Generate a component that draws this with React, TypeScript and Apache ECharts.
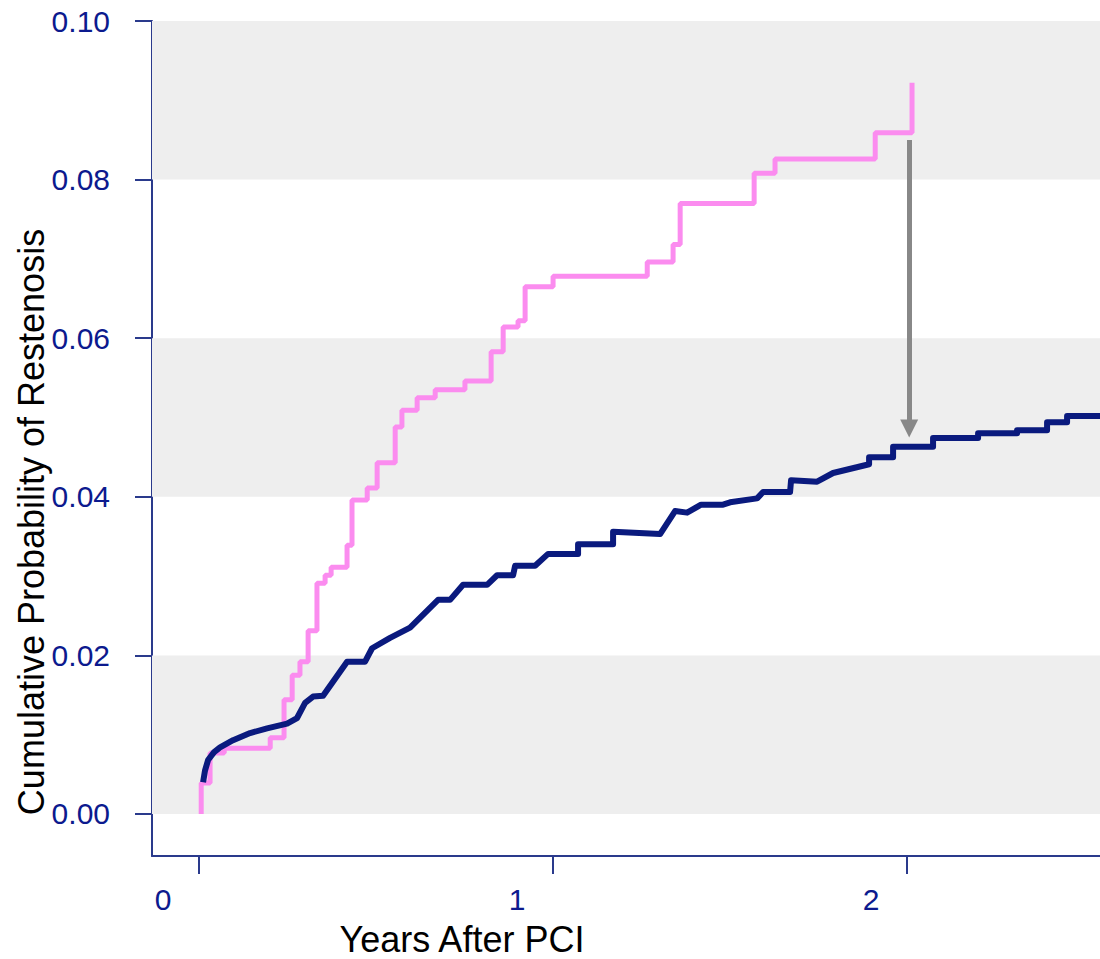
import React, { useEffect, useRef } from "react";
import * as echarts from "echarts";

// Axis ticks and labels
const xTickValues = [0, 1, 2];
const yTickValues = [0, 0.02, 0.04, 0.06, 0.08, 0.1];

// Shaded horizontal bands [from, to]
const bandRanges: [number, number][] = [
  [0, 0.02],
  [0.04, 0.06],
  [0.08, 0.1],
];

// Kaplan-Meier style step curve: [years, cumulative probability after event]
const pinkSteps: [number, number][] = [
  [0.006, 0], [0.006, 0.0039], [0.031, 0.0077], [0.071, 0.0083], [0.201, 0.0096],
  [0.24, 0.0144], [0.263, 0.0175], [0.285, 0.0192], [0.308, 0.0231], [0.333, 0.0291],
  [0.356, 0.0301], [0.373, 0.0311], [0.418, 0.0339], [0.432, 0.0396], [0.475, 0.0411],
  [0.503, 0.0443], [0.554, 0.0488], [0.573, 0.0509], [0.616, 0.0525], [0.667, 0.0535],
  [0.751, 0.0546], [0.825, 0.0583], [0.859, 0.0614], [0.901, 0.0622], [0.921, 0.0665],
  [1.0, 0.0678], [1.266, 0.0696], [1.339, 0.0718], [1.359, 0.077], [1.568, 0.0808],
  [1.627, 0.0826], [1.91, 0.0859], [2.014, 0.0922],
];

// Second curve: [years, cumulative probability]
const navyPoints: [number, number][] = [
  [0.0113, 0.004], [0.0169, 0.0055], [0.0254, 0.0068], [0.0424, 0.0078], [0.0593, 0.0084],
  [0.096, 0.0093], [0.1441, 0.0102], [0.1921, 0.0108], [0.2486, 0.0114], [0.2768, 0.0121],
  [0.2994, 0.014], [0.322, 0.0148], [0.3503, 0.0149], [0.4181, 0.0192], [0.4689, 0.0192],
  [0.4887, 0.0209], [0.5395, 0.0222], [0.596, 0.0235], [0.6751, 0.027], [0.709, 0.027],
  [0.7458, 0.0289], [0.8136, 0.0289], [0.8418, 0.0301], [0.887, 0.0301], [0.8927, 0.0313],
  [0.9492, 0.0313], [0.9859, 0.0328], [1.0706, 0.0328], [1.0706, 0.034], [1.1695, 0.034],
  [1.1695, 0.0356], [1.3023, 0.0353], [1.3446, 0.0382], [1.3785, 0.038], [1.4181, 0.039],
  [1.4802, 0.039], [1.5, 0.0393], [1.5763, 0.0398], [1.5932, 0.0406], [1.6695, 0.0406],
  [1.6723, 0.0421], [1.7458, 0.0419], [1.791, 0.043], [1.8927, 0.0441], [1.8927, 0.045],
  [1.9605, 0.045], [1.9605, 0.0463], [2.0734, 0.0463], [2.0734, 0.0474], [2.2006, 0.0474],
  [2.2006, 0.048], [2.3107, 0.048], [2.3107, 0.0484], [2.3955, 0.0484], [2.3955, 0.0494],
  [2.452, 0.0494], [2.452, 0.0502], [2.545, 0.0502],
];

// Gap arrow at 2 years, from the upper curve down to the lower one
const arrowFrom: [number, number] = [2.006, 0.085];
const arrowTo: [number, number] = [2.006, 0.0486];

const AXIS_BLUE = "#2a3a8c";
const LABEL_BLUE = "#0c1a8e";
const FONT = "'Liberation Sans', Arial, sans-serif";

export default function App() {
  const ref = useRef<HTMLDivElement>(null);

  useEffect(() => {
    if (!ref.current) return;
    const chart = echarts.init(ref.current, null, { renderer: "svg" });

    chart.setOption({
      animation: false,
      backgroundColor: "#ffffff",
      textStyle: { fontFamily: FONT },
      grid: { left: 152, right: 0, top: 21, bottom: 103, containLabel: false },
      xAxis: {
        type: "value",
        min: -0.133,
        max: 2.545,
        axisLine: { show: true, onZero: false, lineStyle: { color: AXIS_BLUE, width: 2 } },
        axisTick: {
          show: true,
          length: 18,
          customValues: xTickValues,
          lineStyle: { color: AXIS_BLUE, width: 2 },
        },
        axisLabel: {
          customValues: xTickValues,
          color: LABEL_BLUE,
          fontSize: 30,
          fontFamily: FONT,
          margin: 28,
          padding: [0, 72, 0, 0],
          formatter: (v: number) => String(v),
        },
        splitLine: { show: false },
      },
      yAxis: {
        type: "value",
        min: -0.0053,
        max: 0.1,
        axisLine: { show: true, onZero: false, lineStyle: { color: AXIS_BLUE, width: 2 } },
        axisTick: {
          show: true,
          length: 17,
          customValues: yTickValues,
          lineStyle: { color: AXIS_BLUE, width: 2 },
        },
        axisLabel: {
          customValues: yTickValues,
          color: LABEL_BLUE,
          fontSize: 30,
          fontFamily: FONT,
          margin: 42,
          formatter: (v: number) => v.toFixed(2),
        },
        splitLine: { show: false },
      },
      series: [
        {
          type: "line",
          name: "pink",
          data: pinkSteps,
          step: "end",
          showSymbol: false,
          silent: true,
          z: 3,
          lineStyle: { color: "#fb8cef", width: 5 },
          markArea: {
            silent: true,
            itemStyle: { color: "#eeeeee" },
            data: bandRanges.map(([a, b]) => [{ yAxis: a }, { yAxis: b }]),
          },
        },
        {
          type: "line",
          name: "navy",
          data: navyPoints,
          showSymbol: false,
          silent: true,
          z: 4,
          lineStyle: { color: "#0a1a7e", width: 6, join: "round" },
          markLine: {
            silent: true,
            symbol: ["none", "triangle"],
            symbolSize: [18, 18],
            label: { show: false },
            lineStyle: { color: "#888888", width: 5, type: "solid" },
            data: [[{ coord: arrowFrom }, { coord: arrowTo }]],
          },
        },
      ],
      graphic: [
        {
          type: "text",
          x: 462,
          y: 939,
          style: {
            text: "Years After PCI",
            fill: "#000000",
            font: `36px ${FONT}`,
            align: "center",
            verticalAlign: "middle",
          },
        },
        {
          type: "text",
          x: 31,
          y: 522,
          rotation: Math.PI / 2,
          style: {
            text: "Cumulative Probability of Restenosis",
            fill: "#000000",
            font: `36px ${FONT}`,
            align: "center",
            verticalAlign: "middle",
          },
        },
      ],
    });

    return () => chart.dispose();
  }, []);

  return (
    <div
      ref={ref}
      style={{ position: "fixed", left: 0, top: 0, width: 1100, height: 959 }}
    />
  );
}
